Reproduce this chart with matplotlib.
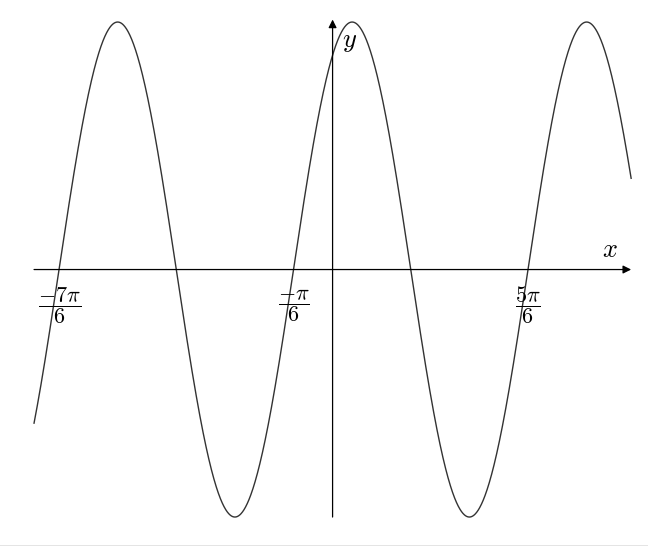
import numpy as np
import matplotlib
matplotlib.use("Agg")
from matplotlib import pyplot as plt
from matplotlib.patches import Rectangle

plt.rcParams['mathtext.fontset'] = 'cm'

# y = sin(2x + pi/3), drawn for x in [-4, 4]
x_start, x_end = -4.0, 4.0
phase = np.pi / 3
freq = 2.0

tick_values = [-7 * np.pi / 6, -np.pi / 6, 5 * np.pi / 6]
tick_labels = [r"$\dfrac{-7\pi}{6}$", r"$\dfrac{-\pi}{6}$", r"$\dfrac{5\pi}{6}$"]


def create_plot():
    fig = plt.figure(figsize=(6.48, 5.46), dpi=100)
    ax = fig.add_axes([0, 0, 1, 1])
    ax.set_xlim(-4.456, 4.226)
    ax.set_ylim(-1.117, 1.089)
    ax.axis("off")

    xs = np.linspace(x_start, x_end, 2000)
    ax.plot(xs, np.sin(freq * xs + phase), c="#333333", lw=1.0)

    arrow = dict(arrowstyle="-|>", color="black", lw=0.9,
                 shrinkA=0, shrinkB=0, mutation_scale=12)
    ax.annotate("", xy=(x_end, 0), xytext=(x_start, 0), arrowprops=arrow)
    ax.annotate("", xy=(0, 1.01), xytext=(0, -1.0), arrowprops=arrow)

    ax.text(3.72, 0.08, r"$x$", fontsize=19, ha="center", va="center")
    ax.text(0.23, 0.925, r"$y$", fontsize=19, ha="center", va="center")

    for value, label in zip(tick_values, tick_labels):
        ax.text(value, -0.145, label, fontsize=16, ha="center", va="center")

    fig.add_artist(Rectangle((0, 0), 1, 1.5 / 546, transform=fig.transFigure,
                             color="#e4e4e4", lw=0))
    fig.savefig("out.png", dpi=100)
    plt.close(fig)


def main():
    create_plot()


if __name__ == "__main__":
    main()
